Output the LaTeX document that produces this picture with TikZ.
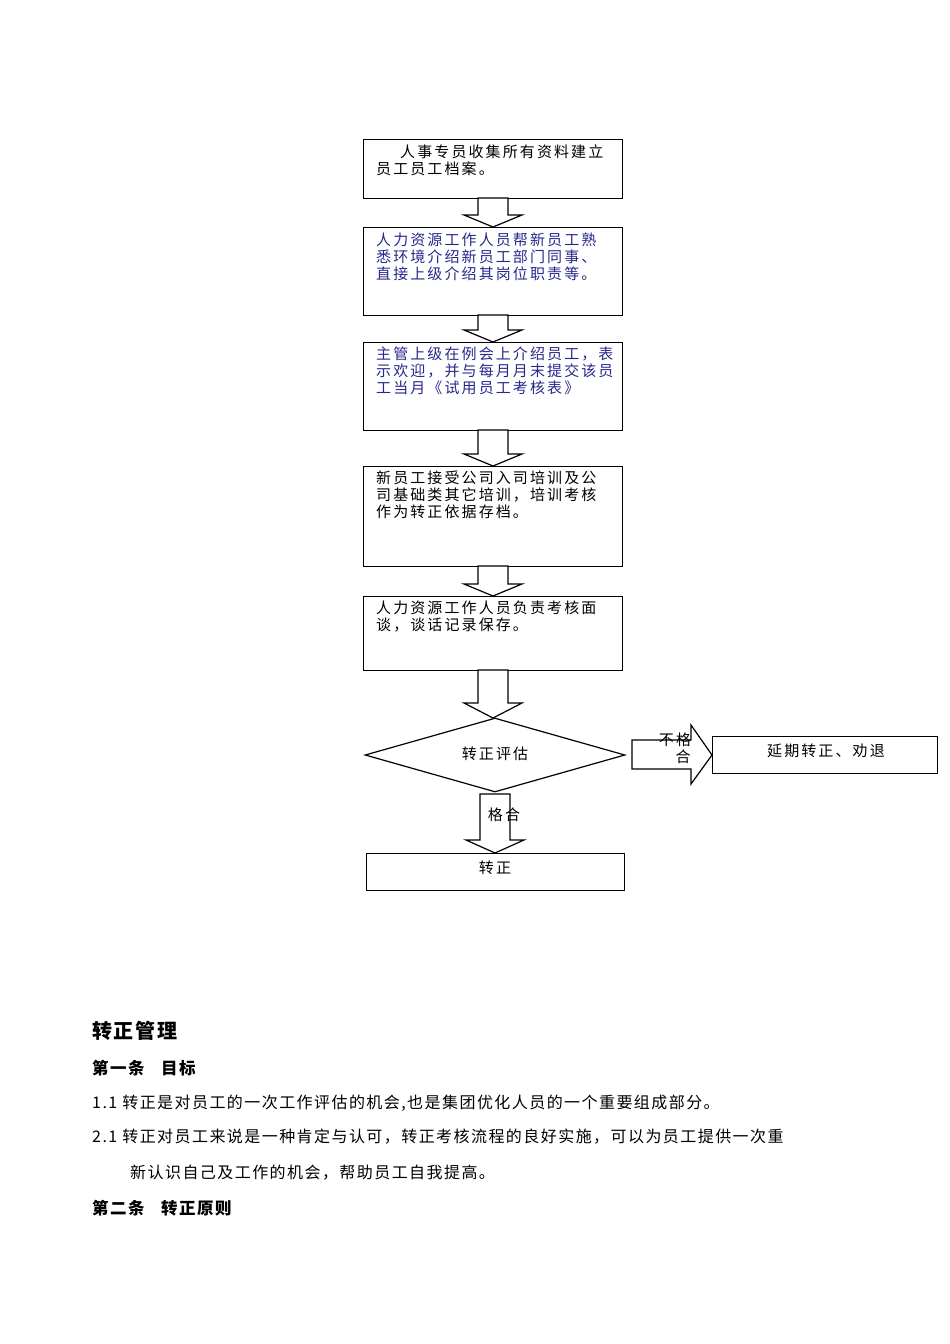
\documentclass[tikz,border=0pt]{standalone}
\usepackage{fontspec}
\setmainfont{Noto Sans CJK SC}[LetterSpace=14]
\newfontfamily\cjk{Noto Sans CJK SC}[LetterSpace=9]
\usetikzlibrary{shapes.geometric}
\definecolor{bluetxt}{RGB}{40,40,140}
\tikzset{
  box/.style={draw,line width=1.2pt,anchor=north west,inner sep=0pt},
  btxt/.style={anchor=north west,align=left,font=\fontsize{15pt}{17pt}\selectfont,inner sep=0pt},
  lbl/.style={font=\fontsize{15pt}{17pt}\selectfont,inner sep=0pt},
  blk/.style={draw,line width=1.2pt,fill=white},
  para/.style={anchor=west,font=\cjk\fontsize{16pt}{18pt}\selectfont,inner sep=0pt},
  hd/.style={anchor=west,font=\cjk\fontsize{16.5pt}{18pt}\selectfont\bfseries,inner sep=0pt}
}
\newcommand{\dnarrow}[5]{% xl xr ytop yhead ybot
  \draw[blk] (#1,#3) -- (#2,#3) -- (#2,#4) -- (#2+14,#4) -- ({(#1+#2)/2},#5) -- (#1-14,#4) -- (#1,#4) -- cycle;}
\begin{document}
\begin{tikzpicture}[x=1pt,y=-1pt]
\useasboundingbox (0,0) rectangle (950,1344);
\fill[white] (0,0) rectangle (950,1344);
\node[box,minimum width=259pt,minimum height=59pt] (b1) at (363,139) {};
\node[box,minimum width=259pt,minimum height=88pt] (b2) at (363,227) {};
\node[box,minimum width=259pt,minimum height=88pt] (b3) at (363,342) {};
\node[box,minimum width=259pt,minimum height=100pt] (b4) at (363,466) {};
\node[box,minimum width=259pt,minimum height=74pt] (b5) at (363,596) {};
\node[box,minimum width=258pt,minimum height=37pt] (b6) at (366,853) {};
\node[box,minimum width=225pt,minimum height=37pt] (b7) at (712,736) {};
\node[draw,line width=1.2pt,diamond,aspect=3.5,minimum width=260pt,minimum height=74pt,inner sep=0pt] (d) at (495,755) {};
\node[btxt] (t1) at (376,145) {\hspace{1.6em}人事专员收集所有资料建立\\员工员工档案。};
\node[btxt,text=bluetxt] (t2) at (376,233) {人力资源工作人员帮新员工熟\\悉环境介绍新员工部门同事、\\直接上级介绍其岗位职责等。};
\node[btxt,text=bluetxt] (t3) at (376,347) {主管上级在例会上介绍员工，表\\示欢迎，并与每月月末提交该员\\工当月《试用员工考核表》};
\node[btxt] (t4) at (376,471) {新员工接受公司入司培训及公\\司基础类其它培训，培训考核\\作为转正依据存档。};
\node[btxt] (t5) at (376,601) {人力资源工作人员负责考核面\\谈，谈话记录保存。};
\dnarrow{478}{508}{198}{215}{227}
\dnarrow{478}{508}{315}{330}{342}
\dnarrow{478}{508}{430}{454}{466}
\dnarrow{478}{508}{566}{584}{596}
\dnarrow{478}{508}{670}{703}{718}
\dnarrow{480}{510}{794}{840}{853}
\draw[blk] (632,740) -- (691,740) -- (691,725) -- (712,755) -- (691,784) -- (691,769) -- (632,769) -- cycle;
\node[lbl] (dt) at (495,754) {转正评估};
\node[lbl] (bt6) at (495,868) {转正};
\node[lbl] (bt7) at (826,751) {延期转正、劝退};
\node[lbl] (n1) at (675,740) {不格};
\node[lbl] (n2) at (683,757) {合};
\node[lbl] (g) at (504,815) {格\,合};
\node[hd,font=\cjk\fontsize{20pt}{22pt}\selectfont\bfseries] (h0) at (92,1031) {转正管理};
\node[hd] (h1) at (92,1068) {第一条\quad 目标};
\node[para] (p1) at (92,1103) {1.1\ 转正是对员工的一次工作评估的机会,也是集团优化人员的一个重要组成部分。};
\node[para] (p2) at (92,1137) {2.1\ 转正对员工来说是一种肯定与认可，转正考核流程的良好实施，可以为员工提供一次重};
\node[para] (p3) at (130,1173) {新认识自己及工作的机会，帮助员工自我提高。};
\node[hd] (h2) at (92,1208) {第二条\quad 转正原则};
\end{tikzpicture}
\end{document}
